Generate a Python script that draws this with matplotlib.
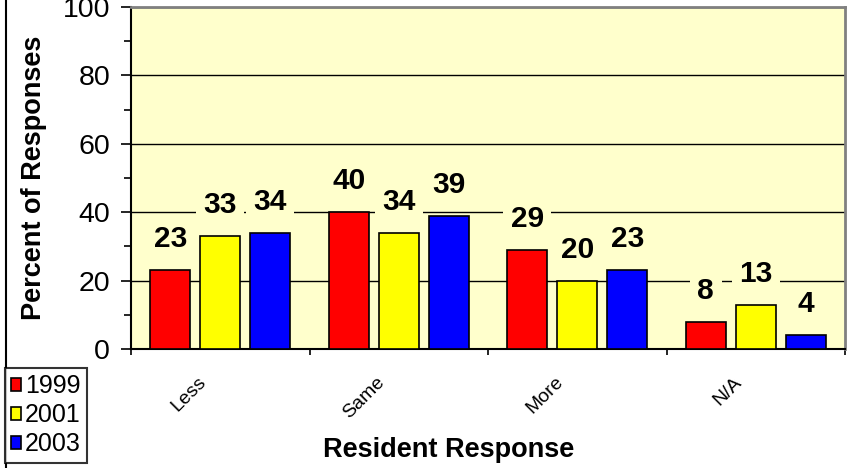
import matplotlib
matplotlib.use('Agg')
import matplotlib.pyplot as plt
import matplotlib.transforms as mtransforms
from matplotlib.patches import Patch
from matplotlib.lines import Line2D
import numpy as np

categories = ['Less', 'Same', 'More', 'N/A']
years = ['1999', '2001', '2003']
vals_1999 = [23, 40, 29, 8]
vals_2001 = [33, 34, 20, 13]
vals_2003 = [34, 39, 23, 4]
colors = ['#FF0000', '#FFFF00', '#0000FF']

plt.rcParams['font.family'] = ['Liberation Sans', 'DejaVu Sans']

W, H = 856, 468
fig = plt.figure(figsize=(W / 100, H / 100), dpi=100)
ax = fig.add_axes([131 / W, 1 - 349 / H, (845 - 131) / W, (349 - 7) / H])
ax.set_facecolor('#FFFFCC')

x = np.arange(len(categories))
width = 0.224
step = 0.28
series = [vals_1999, vals_2001, vals_2003]

for i, (vals, col) in enumerate(zip(series, colors)):
    pos = x + (i - 1) * step
    ax.bar(pos, vals, width, color=col, edgecolor='black', linewidth=1.2, zorder=3)
    for px, v in zip(pos, vals):
        ax.annotate(str(v), (px, v), xytext=(0, 16.5), textcoords='offset points',
                    ha='center', va='baseline', fontsize=21.5, fontweight='bold',
                    zorder=5,
                    bbox=dict(boxstyle='square,pad=0.25', fc='#FFFFCC', ec='none'))

ax.set_xlim(-0.5, 3.5)
ax.set_ylim(0, 100)

# gridlines
ax.set_yticks(np.arange(0, 101, 20))
ax.set_yticks(np.arange(10, 100, 20), minor=True)
ax.yaxis.grid(True, which='major', color='black', linewidth=1.0, zorder=1)
ax.set_axisbelow(True)
ax.tick_params(axis='y', which='major', length=7, width=1.2, pad=8, labelsize=20.5)
ax.tick_params(axis='y', which='minor', length=5, width=1.2)

# category boundary ticks, labels at centres
ax.set_xticks(np.arange(-0.5, 4, 1))
ax.set_xticklabels([])
ax.set_xticks(x, minor=True)
ax.set_xticklabels(categories, minor=True, rotation=45, ha='right', va='center',
                   rotation_mode='anchor', fontsize=14)
ax.tick_params(axis='x', which='major', length=4.5, width=1.2)
ax.tick_params(axis='x', which='minor', length=0, pad=22)
shift = mtransforms.ScaledTranslation(-12 / 72, 0, fig.dpi_scale_trans)
for lab in ax.get_xticklabels(minor=True):
    lab.set_transform(lab.get_transform() + shift)

for s in ['left', 'bottom']:
    ax.spines[s].set_color('black')
    ax.spines[s].set_linewidth(1.5)
for s in ['top', 'right']:
    ax.spines[s].set_color('#808080')
    ax.spines[s].set_linewidth(2)

fig.text(34 / W, 1 - 178 / H, 'Percent of Responses', rotation=90, ha='center',
         va='center', fontsize=19.5, fontweight='bold')
fig.text(449 / W, 1 - 457 / H, 'Resident Response', ha='center', va='baseline',
         fontsize=19.5, fontweight='bold')

# chart area border on the left
fig.add_artist(Line2D([5.5 / W, 5.5 / W], [0, 1], color='black', linewidth=1.5,
                      transform=fig.transFigure))

handles = [Patch(facecolor=c, edgecolor='black', linewidth=1.2) for c in colors]
leg = fig.legend(handles, years, loc='upper left', bbox_to_anchor=(5 / W, 1 - 368 / H),
                 borderaxespad=0, fontsize=18, frameon=True, fancybox=False,
                 edgecolor='black', handlelength=0.4, handleheight=0.4,
                 handletextpad=0.15, labelspacing=0.2, borderpad=0.25)
leg.get_frame().set_linewidth(1.5)

fig.savefig('out.png', dpi=100)
